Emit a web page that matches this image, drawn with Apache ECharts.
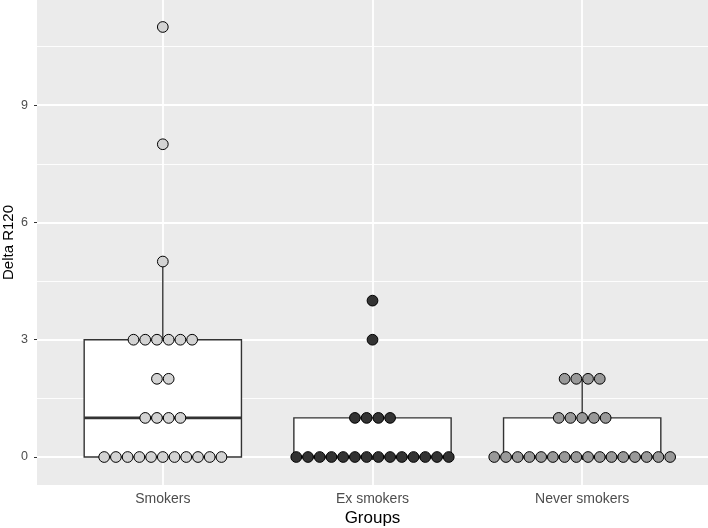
<!DOCTYPE html>
<html>
<head>
<meta charset="utf-8">
<script src="https://cdn.jsdelivr.net/npm/echarts@6/dist/echarts.min.js"></script>
<style>
  html, body { margin: 0; padding: 0; background: #fff; }
  #chart { width: 708px; height: 528px; }
</style>
</head>
<body>
<div id="chart"></div>
<script>
const groups = ['Smokers', 'Ex smokers', 'Never smokers'];
const smokers = [0, 0, 0, 0, 0, 0, 0, 0, 0, 0, 0, 1, 1, 1, 1, 2, 2, 3, 3, 3, 3, 3, 3, 5, 8, 11];
const exSmokers = [0, 0, 0, 0, 0, 0, 0, 0, 0, 0, 0, 0, 0, 0, 1, 1, 1, 1, 3, 4];
const neverSmokers = [0, 0, 0, 0, 0, 0, 0, 0, 0, 0, 0, 0, 0, 0, 0, 0, 1, 1, 1, 1, 1, 2, 2, 2, 2];
const dotColors = ['#d3d3d3', '#333333', '#999999'];
const yTicks = [0, 3, 6, 9];
const yMinor = [1.5, 4.5, 7.5, 10.5];
const binwidth = 0.3;

const allData = [smokers, exSmokers, neverSmokers];

// quantile type 7 like R
function quantile(sorted, p) {
  const h = (sorted.length - 1) * p;
  const lo = Math.floor(h), hi = Math.ceil(h);
  return sorted[lo] + (h - lo) * (sorted[hi] - sorted[lo]);
}

const boxData = allData.map((vals, i) => {
  const s = vals.slice().sort((a, b) => a - b);
  const q1 = quantile(s, 0.25), med = quantile(s, 0.5), q3 = quantile(s, 0.75);
  const iqr = q3 - q1;
  const inside = s.filter(v => v >= q1 - 1.5 * iqr && v <= q3 + 1.5 * iqr);
  return [i + 1, inside[0], q1, med, q3, inside[inside.length - 1]];
});

// dots stacked sideways per value
const dotData = [];
allData.forEach((vals, i) => {
  const counts = {};
  vals.forEach(v => { counts[v] = (counts[v] || 0) + 1; });
  Object.keys(counts).forEach(k => {
    const n = counts[k];
    for (let j = 0; j < n; j++) dotData.push([i + 1, Number(k), j, n, i]);
  });
});

const myChart = echarts.init(document.getElementById('chart'));

const option = {
  animation: false,
  grid: {
    left: 37, right: 0, top: 0, bottom: 43,
    outerBoundsMode: 'none',
    containLabel: false,
    show: true, backgroundColor: '#ebebeb', borderWidth: 0
  },
  xAxis: {
    type: 'value',
    min: 0.4, max: 3.6,
    name: 'Groups',
    nameLocation: 'middle',
    nameGap: 25,
    nameMoveOverlap: false,
    nameTextStyle: { color: '#000', fontSize: 17, fontFamily: 'Liberation Sans' },
    axisLine: { show: false },
    axisTick: { show: true, length: 3, customValues: [1, 2, 3], lineStyle: { color: '#333', width: 1 } },
    axisLabel: {
      customValues: [1, 2, 3],
      formatter: v => groups[Math.round(v) - 1],
      color: '#4d4d4d', fontSize: 14, fontFamily: 'Liberation Sans', margin: 7
    },
    splitLine: { show: true, lineStyle: { color: '#fff', width: 1.8 } }
  },
  yAxis: {
    type: 'value',
    min: -0.716, max: 11.69,
    name: 'Delta R120',
    nameLocation: 'middle',
    nameRotate: 90,
    nameGap: 21,
    nameMoveOverlap: false,
    nameTextStyle: { color: '#000', fontSize: 15, fontFamily: 'Liberation Sans' },
    axisLine: { show: false },
    axisTick: { show: true, length: 3, customValues: yTicks, lineStyle: { color: '#333', width: 1 } },
    axisLabel: {
      customValues: yTicks,
      color: '#4d4d4d', fontSize: 12.5, fontFamily: 'Liberation Sans', margin: 9
    },
    splitLine: { show: true, lineStyle: { color: '#fff', width: 1.8 } }
  },
  series: [
    {
      type: 'custom',
      name: 'box',
      data: boxData,
      silent: true,
      z: 2,
      renderItem: (params, api) => {
        const x = api.value(0);
        const lw = api.coord([x, api.value(1)]);
        const q1 = api.coord([x, api.value(2)]);
        const md = api.coord([x, api.value(3)]);
        const q3 = api.coord([x, api.value(4)]);
        const uw = api.coord([x, api.value(5)]);
        const half = api.size([0.75, 0])[0] / 2;
        const line = { stroke: '#333', lineWidth: 1.4 };
        return {
          type: 'group',
          children: [
            { type: 'line', shape: { x1: q3[0], y1: q3[1], x2: uw[0], y2: uw[1] }, style: line },
            { type: 'line', shape: { x1: q1[0], y1: q1[1], x2: lw[0], y2: lw[1] }, style: line },
            { type: 'rect', shape: { x: q3[0] - half, y: q3[1], width: half * 2, height: q1[1] - q3[1] },
              style: { fill: '#fff', stroke: '#333', lineWidth: 1.4 } },
            { type: 'line', shape: { x1: md[0] - half, y1: md[1], x2: md[0] + half, y2: md[1] },
              style: { stroke: '#333', lineWidth: 2.8 } }
          ]
        };
      },
      markLine: {
        silent: true,
        symbol: 'none',
        label: { show: false },
        lineStyle: { color: '#fff', width: 0.9, type: 'solid' },
        z: 1,
        data: yMinor.map(v => ({ yAxis: v }))
      }
    },
    {
      type: 'custom',
      name: 'dots',
      data: dotData,
      silent: true,
      z: 3,
      renderItem: (params, api) => {
        const c = api.coord([api.value(0), api.value(1)]);
        const d = api.size([0, binwidth])[1];
        const j = api.value(2), n = api.value(3);
        return {
          type: 'circle',
          shape: { cx: c[0] + (j - (n - 1) / 2) * d, cy: c[1], r: d / 2 - 0.5 },
          style: { fill: dotColors[api.value(4)], stroke: '#000', lineWidth: 1 }
        };
      }
    }
  ]
};
myChart.setOption(option, true);
</script>
</body>
</html>
